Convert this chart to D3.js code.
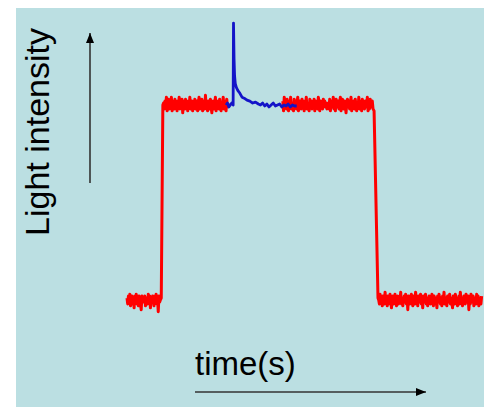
<!DOCTYPE html>
<html>
<head>
<meta charset="utf-8">
<script src="https://cdn.jsdelivr.net/npm/d3@7"></script>
<style>
  html, body { margin: 0; padding: 0; background: #ffffff; }
  svg { display: block; }
</style>
</head>
<body>
<div id="chart"></div>
<script>
// ---- Data (arbitrary units: time 0..100 s, intensity 0 = dark level, 100 = light level) ----
const xLabel = "time(s)";
const yLabel = "Light intensity";

const sampleStep = 0.2;

// red trace, low level before the light is switched on
const redLow1Start = 0;
const redLow1Values = [1,-2,2,-1,3,-3,0,2,-2,1,-4,2,-1,3,-2,0,-3,2,1,-2,-5,2,-1,1,
  -1,2,-3,1,0,-2,3,-1,2,-4,1,-1,2,0,-3,2,-1,3,-2,1,-6,2,-1,0];
// rise
const redRiseTimes = [9.65, 10.1];
const redRiseValues = [1, 100];
// red trace, first high plateau
const redHigh1Start = 10.3;
const redHigh1Values = [101,98,102,99,104,97,100,103,98,101,99,104,97,102,100,98,103,99,101,97,102,100,104,98,101,99,103,96,102,100,98,103,99,101,97,102,99,104,98,100,102,97,101,99,103,98,
  100,102,97,101,104,98,100,99,103,97,101,102,98,105,99,100,97,102,101,98,103,99,96,101,102,98,100,104,97,101,99,102,98,103,100,97,101,99,104,98,102,100,97,103,99,101];
// red trace, second high plateau
const redHigh2Start = 43.9;
const redHigh2Values = [102,97,104,99,101,98,103,100,97,102,99,104,98,101,100,97,103,99,102,98,101,104,97,100,102,99,98,103,100,101,97,102,99,104,98,101,100,97,103,99,102,98,101,100,103,97,102,99,101,98,104,100,97,102,99,101,98,103,100,102,99,101,98,100,
  101,98,103,97,100,102,99,104,98,101,97,103,100,99,102,98,101,104,97,100,103,99,98,102,100,96,101,103,99,102,98,100,104,97,101,99,102,98,103,100,97,101,99,104,98,102,100,97,103,99,101,98,102,100,99,104,97,101,98,103,100,99,102,98];
// fall
const redFallTimes = [69.6, 70.7];
const redFallValues = [97, 1];
// red trace, low level after the light is switched off
const redLow2Start = 70.9;
const redLow2Values = [0,-2,3,-1,1,-3,2,0,-2,4,-1,1,-3,2,-2,0,3,-1,-4,1,2,-2,0,3,-1,-3,1,2,-2,0,-1,4,-2,1,-3,0,2,-1,3,-2,1,-5,2,0,-2,1,3,-1,-3,2,0,-2,4,-1,1,-3,2,-1,0,3,-2,1,-4,2,0,-1,3,-2,1,-3,0,2,
  1,-2,0,3,-1,-3,2,0,-2,1,-4,2,-1,3,0,-2,1,-3,2,-1,4,-2,0,1,-3,2,-1,0,3,-2,1,-1,-4,2,0,-2,3,-1,1,-3,0,2,-2,4,-1,1,-3,0,2,-1,-2,3,0,-1,2,-5,1,-2,3,0,-1,2,-3,1,0,-2,3,-1,2,-3,0,1,-2,2];

// blue trace (transient spike)
const blueTimes  = [27.9,28.3,28.7,29.1,29.5,29.9,30.0,30.15,30.3,30.5,30.8,31.2,31.8,32.4,33.0,33.8,34.6,35.4,36.2,37.0,37.6,38.2,38.8,39.4,40.0,40.6,41.2,41.8,42.4,43.0,43.6,44.2,44.8,45.4,46.0,46.6,47.2,47.8];
const blueValues = [100,101,99,100,101,100,142,124,115,111,109,107.5,106,104,103.5,102.5,102,101,101.5,100.5,100,101,99.5,100.5,99,100,101,99.5,100,100.5,99,100,99.5,100.5,99,100,99.5,99.5];

// ---- Helpers ----
function sampled(start, values) {
  return values.map((v, i) => ({ t: start + i * sampleStep, v: v }));
}
function paired(times, values) {
  return times.map((t, i) => ({ t: t, v: values[i] }));
}

const redSeg1 = sampled(redLow1Start, redLow1Values)
  .concat(paired(redRiseTimes, redRiseValues))
  .concat(sampled(redHigh1Start, redHigh1Values));
const redSeg2 = sampled(redHigh2Start, redHigh2Values)
  .concat(paired(redFallTimes, redFallValues))
  .concat(sampled(redLow2Start, redLow2Values));
const blueSeg = paired(blueTimes, blueValues);

// ---- Drawing ----
const W = 484, H = 407;
const svg = d3.select("#chart").append("svg").attr("width", W).attr("height", H);

// panel background
svg.append("rect").attr("x", 16).attr("y", 8).attr("width", W - 16).attr("height", H - 8)
  .attr("fill", "#bbdfe2");

const x = d3.scaleLinear().domain([0, 100]).range([127, 482]);
const y = d3.scaleLinear().domain([0, 100]).range([300, 105]);

const line = d3.line().x(d => x(d.t)).y(d => y(d.v));

svg.append("path").datum(redSeg1).attr("d", line)
  .attr("fill", "none").attr("stroke", "#ff0000").attr("stroke-width", 3).attr("stroke-linejoin", "round");
svg.append("path").datum(redSeg2).attr("d", line)
  .attr("fill", "none").attr("stroke", "#ff0000").attr("stroke-width", 3).attr("stroke-linejoin", "round");
svg.append("path").datum(blueSeg).attr("d", line)
  .attr("fill", "none").attr("stroke", "#1414c8").attr("stroke-width", 2.8).attr("stroke-linejoin", "round");

// arrow marker
const defs = svg.append("defs");
defs.append("marker").attr("id", "arrow")
  .attr("viewBox", "0 0 10 8").attr("refX", 10).attr("refY", 4)
  .attr("markerWidth", 10).attr("markerHeight", 8).attr("markerUnits", "userSpaceOnUse")
  .attr("orient", "auto")
  .append("path").attr("d", "M0,0 L10,4 L0,8 Z").attr("fill", "#000");

// y-axis arrow
svg.append("line").attr("x1", 90).attr("y1", 183).attr("x2", 90).attr("y2", 33)
  .attr("stroke", "#333").attr("stroke-width", 1.6).attr("marker-end", "url(#arrow)");
// x-axis arrow
svg.append("line").attr("x1", 195).attr("y1", 392).attr("x2", 426).attr("y2", 392)
  .attr("stroke", "#333").attr("stroke-width", 1.6).attr("marker-end", "url(#arrow)");

const font = "'Liberation Sans', Arial, Helvetica, sans-serif";

svg.append("text").text(yLabel)
  .attr("transform", "translate(49,132) rotate(-90)")
  .attr("text-anchor", "middle")
  .attr("font-family", font).attr("font-size", 34).attr("fill", "#000");

svg.append("text").text(xLabel)
  .attr("x", 195).attr("y", 375)
  .attr("font-family", font).attr("font-size", 33).attr("fill", "#000");
</script>
</body>
</html>
